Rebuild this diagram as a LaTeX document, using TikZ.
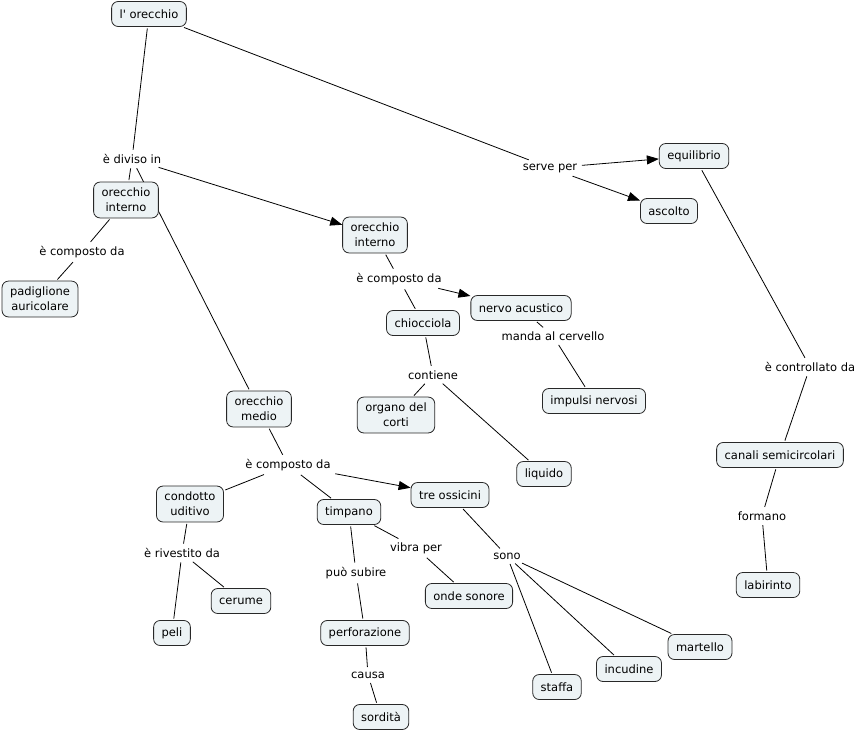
\documentclass[tikz,border=0pt]{standalone}
\usepackage{fontspec}
\setmainfont{DejaVu Sans}
\usetikzlibrary{arrows.meta,backgrounds}
\definecolor{boxfill}{RGB}{237,243,245}
\definecolor{boxline}{RGB}{40,40,40}
\tikzset{
  concept/.style={draw=boxline, fill=boxfill, rounded corners=6.5pt, line width=0.8pt,
    inner xsep=8pt, inner ysep=6pt, minimum height=25pt, align=center, font=\fontsize{11.5}{15}\selectfont},
  linkph/.style={inner sep=3pt, align=center, font=\fontsize{11.5}{15}\selectfont},
  conn/.style={draw=black, line width=0.8pt, shorten <=1.5pt, shorten >=1.5pt},
  arr/.style={conn, -{Triangle[length=12pt,width=9pt]}, shorten >=0pt}
}
\begin{document}
\begin{tikzpicture}[x=1pt,y=-1pt]
\useasboundingbox (0,0) rectangle (860,732);
% concepts
\node[concept] (orec) at (149,14) {l\textquotesingle{} orecchio};
\node[concept] (intL) at (126,200) {orecchio\\interno};
\node[concept] (padi) at (40,299) {padiglione\\auricolare};
\node[concept] (intM) at (375,235) {orecchio\\interno};
\node[concept] (chio) at (423,323) {chiocciola};
\node[concept] (nerv) at (521,308) {nervo acustico};
\node[concept] (impu) at (594,401) {impulsi nervosi};
\node[concept] (orga) at (396,415) {organo del\\corti};
\node[concept] (liqu) at (544,474) {liquido};
\node[concept] (equi) at (694,156) {equilibrio};
\node[concept] (asco) at (669,211) {ascolto};
\node[concept] (medi) at (259,409) {orecchio\\medio};
\node[concept] (cond) at (190,504) {condotto\\uditivo};
\node[concept] (timp) at (349,512) {timpano};
\node[concept] (ossi) at (450,495) {tre ossicini};
\node[concept] (ceru) at (241,601) {cerume};
\node[concept] (peli) at (172,633) {peli};
\node[concept] (onde) at (469,596) {onde sonore};
\node[concept] (perf) at (365,633) {perforazione};
\node[concept] (sord) at (381,717) {sordità};
\node[concept] (staf) at (557,687) {staffa};
\node[concept] (incu) at (629,669) {incudine};
\node[concept] (mart) at (700,647) {martello};
\node[concept] (cana) at (780,455) {canali semicircolari};
\node[concept] (labi) at (768,585) {labirinto};
% linking phrases
\node[linkph] (divi) at (132,159) {è diviso in};
\node[linkph] (serv) at (550,168) {serve per};
\node[linkph] (compL) at (82,252) {è composto da};
\node[linkph] (compM) at (399,279) {è composto da};
\node[linkph] (mand) at (553,336) {manda al cervello};
\node[linkph] (cont) at (433,375) {contiene};
\node[linkph] (ctrl) at (810,367) {è controllato da};
\node[linkph] (form) at (762,516) {formano};
\node[linkph] (compB) at (288,465) {è composto da};
\node[linkph] (rive) at (182,553) {è rivestito da};
\node[linkph] (vibr) at (416,548) {vibra per};
\node[linkph] (subi) at (356,573) {può subire};
\node[linkph] (sono) at (507,556) {sono};
\node[linkph] (caus) at (368,675) {causa};
% connectors
\begin{scope}[on background layer]
\draw[conn] (orec) -- (divi);
\draw[conn] (orec) -- (serv);
\draw[conn] (divi) -- (intL);
\draw[conn] (divi) -- (medi);
\draw[arr] (divi) -- (intM);
\draw[conn] (intL) -- (compL);
\draw[conn] (compL) -- (padi);
\draw[conn] (intM) -- (compM);
\draw[conn] (compM) -- (chio);
\draw[arr] (compM) -- (nerv);
\draw[conn] (nerv) -- (mand);
\draw[conn] (mand) -- (impu);
\draw[conn] (chio) -- (cont);
\draw[conn] (cont) -- (orga);
\draw[conn] (cont) -- (liqu);
\draw[arr] (serv) -- (equi);
\draw[arr] (serv) -- (asco);
\draw[conn] (equi) -- (ctrl);
\draw[conn] (ctrl) -- (cana);
\draw[conn] (cana) -- (form);
\draw[conn] (form) -- (labi);
\draw[conn] (medi) -- (compB);
\draw[conn] (compB) -- (cond);
\draw[conn] (compB) -- (timp);
\draw[arr] (compB) -- (ossi);
\draw[conn] (cond) -- (rive);
\draw[conn] (rive) -- (peli);
\draw[conn] (rive) -- (ceru);
\draw[conn] (timp) -- (vibr);
\draw[conn] (vibr) -- (onde);
\draw[conn] (timp) -- (subi);
\draw[conn] (subi) -- (perf);
\draw[conn] (perf) -- (caus);
\draw[conn] (caus) -- (sord);
\draw[conn] (ossi) -- (sono);
\draw[conn] (sono) -- (staf);
\draw[conn] (sono) -- (incu);
\draw[conn] (sono) -- (mart);
\end{scope}
\end{tikzpicture}
\end{document}
